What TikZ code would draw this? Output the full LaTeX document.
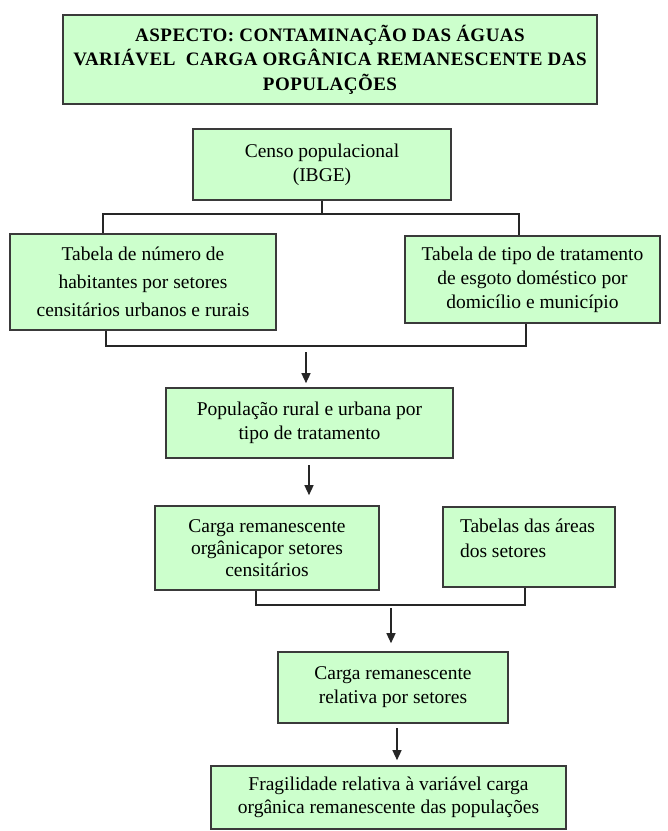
\documentclass[tikz,border=0pt]{standalone}
\usepackage{fontspec}
\setmainfont{Liberation Serif}
\newfontfamily\titlefont{Liberation Serif}[LetterSpace=2.5]
\usetikzlibrary{arrows.meta}
\definecolor{boxfill}{HTML}{CCFFCC}
\definecolor{boxline}{HTML}{3A3A3A}
\tikzset{
  flowbox/.style={draw=boxline, line width=1.6pt, fill=boxfill, inner sep=0pt,
    align=center, font=\fontsize{19.5}{24}\selectfont},
  conn/.style={line width=1.3pt, draw=black!85},
  flowarrow/.style={conn, -{Triangle[width=9pt,length=10pt]}},
}
\begin{document}
\begin{tikzpicture}[x=1pt,y=-1pt]
\useasboundingbox (0,0) rectangle (668,831);

\node[flowbox, line width=2pt, minimum width=534, minimum height=89,
  font=\titlefont\bfseries\fontsize{19}{24.5}\selectfont] (title) at (330,59.5)
  {ASPECTO: CONTAMINAÇÃO DAS ÁGUAS\\VARIÁVEL\ \ CARGA ORGÂNICA REMANESCENTE DAS\\POPULAÇÕES};

\node[flowbox, minimum width=258, minimum height=71] (censo) at (322,164.5)
  {Censo populacional\\(IBGE)};

\node[flowbox, minimum width=266, minimum height=96,
  font=\fontsize{19.5}{28}\selectfont] (tab1) at (143,282)
  {Tabela de número de\\habitantes por setores\\censitários urbanos e rurais};

\node[flowbox, minimum width=255, minimum height=87] (tab2) at (532.5,279.5)
  {Tabela de tipo de tratamento\\de esgoto doméstico por\\domicílio e município};

\node[flowbox, minimum width=287, minimum height=70] (pop) at (309.5,423)
  {População rural e urbana por\\tipo de tratamento};

\node[flowbox, minimum width=224, minimum height=84,
  font=\fontsize{19.5}{22}\selectfont] (carga) at (267,548)
  {Carga remanescente\\orgânicapor setores\\censitários};

\node[flowbox, align=left, inner xsep=17pt, inner ysep=12pt,
  font=\fontsize{19.5}{25}\selectfont] (tabelas) at (529,547)
  {\parbox[c][56pt][t]{138pt}{\raggedright Tabelas das áreas\\dos setores}};

\node[flowbox, minimum width=230, minimum height=71] (rel) at (393,687.5)
  {Carga remanescente\\relativa por setores};

\node[flowbox, minimum width=355, minimum height=63,
  font=\fontsize{19.5}{23}\selectfont] (frag) at (388.5,797.5)
  {Fragilidade relativa à variável carga\\orgânica remanescente das populações};

% first junction
\coordinate (j1) at (322,214);
\coordinate (j1l) at (103,214);
\coordinate (j1r) at (519,214);
\draw[conn] (censo.south) -- (j1);
\draw[conn] (tab1.north -| j1l) -- (j1l) -- (j1r) -- (tab2.north -| j1r);

% second junction
\coordinate (j2l) at (106,346);
\coordinate (j2r) at (526,346);
\draw[conn] (tab1.south -| j2l) -- (j2l) -- (j2r) -- (tab2.south -| j2r);

\coordinate (a1) at (306,352);
\draw[flowarrow, shorten >=4pt] (a1) -- (a1 |- pop.north);

\coordinate (a2) at (309,465);
\draw[flowarrow, shorten >=10pt] (a2) -- (a2 |- carga.north);

% third junction
\coordinate (j3l) at (256,605);
\coordinate (j3r) at (525,605);
\draw[conn] (carga.south -| j3l) -- (j3l) -- (j3r) -- (tabelas.south -| j3r);

\coordinate (a3) at (391,608);
\draw[flowarrow, shorten >=8pt] (a3) -- (a3 |- rel.north);

\coordinate (a4) at (397,728);
\draw[flowarrow, shorten >=5pt] (a4) -- (a4 |- frag.north);
\end{tikzpicture}
\end{document}
